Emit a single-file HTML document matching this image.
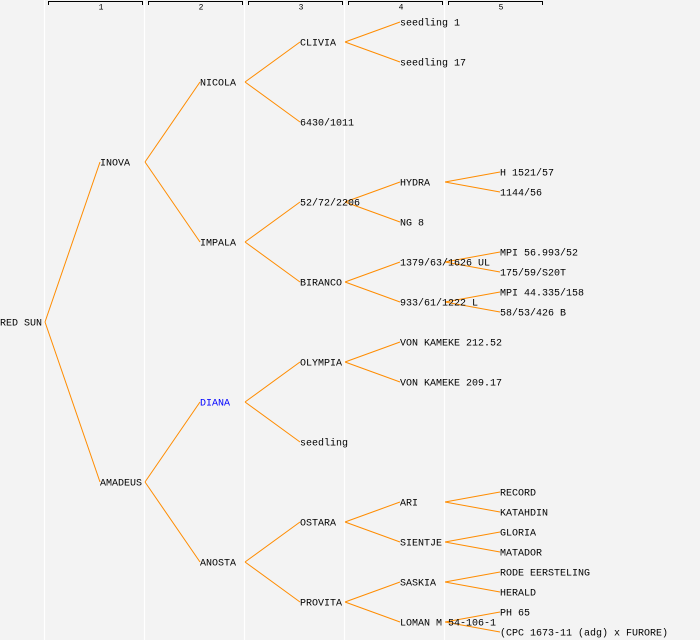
<!DOCTYPE html>
<html><head><meta charset="utf-8"><style>
html,body{margin:0;padding:0;background:#f3f3f3;}
svg{display:block;}
text{font-family:"Liberation Mono","DejaVu Sans Mono",monospace;font-size:10px;fill:#000;dominant-baseline:central;}
.h{font-size:8px;text-anchor:middle;}
</style></head><body>
<svg width="700" height="640" xmlns="http://www.w3.org/2000/svg">
<rect width="700" height="640" fill="#f3f3f3"/>
<g stroke="#ffffff" stroke-width="1.2">
<line x1="44.5" y1="0" x2="44.5" y2="640"/>
<line x1="144.5" y1="0" x2="144.5" y2="640"/>
<line x1="244.5" y1="0" x2="244.5" y2="640"/>
<line x1="344.5" y1="0" x2="344.5" y2="640"/>
<line x1="444.5" y1="0" x2="444.5" y2="640"/>
</g>
<g fill="none" stroke="#000" stroke-width="1">
<path d="M48.5 5V1.5H142.5V5"/>
<path d="M148.5 5V1.5H242.5V5"/>
<path d="M248.5 5V1.5H342.5V5"/>
<path d="M348.5 5V1.5H442.5V5"/>
<path d="M448.5 5V1.5H542.5V5"/>
</g>
<text class="h" x="101" y="8">1</text>
<text class="h" x="201" y="8">2</text>
<text class="h" x="301" y="8">3</text>
<text class="h" x="401" y="8">4</text>
<text class="h" x="501" y="8">5</text>
<g stroke="#ff8c00" stroke-width="1" fill="none">
<path d="M45 322L100 162M45 322L100 482"/>
<path d="M145 162L200 82M145 162L200 242M145 482L200 402M145 482L200 562"/>
<path d="M245 82L300 42M245 82L300 122M245 242L300 202M245 242L300 282M245 402L300 362M245 402L300 442M245 562L300 522M245 562L300 602"/>
<path d="M345 42L400 22M345 42L400 62M345 202L400 182M345 202L400 222M345 282L400 262M345 282L400 302M345 362L400 342M345 362L400 382M345 522L400 502M345 522L400 542M345 602L400 582M345 602L400 622"/>
<path d="M445 182L500 172M445 182L500 192M445 262L500 252M445 262L500 272M445 302L500 292M445 302L500 312M445 502L500 492M445 502L500 512M445 542L500 532M445 542L500 552M445 582L500 572M445 582L500 592M445 622L500 612M445 622L500 632"/>
</g>
<g transform="translate(0,2)">
<text x="0" y="322">RED SUN</text>
<text x="100" y="162">INOVA</text>
<text x="100" y="482">AMADEUS</text>
<text x="200" y="82">NICOLA</text>
<text x="200" y="242">IMPALA</text>
<text x="200" y="402" style="fill:#0000ff">DIANA</text>
<text x="200" y="562">ANOSTA</text>
<text x="300" y="42">CLIVIA</text>
<text x="300" y="122">6430/1011</text>
<text x="300" y="202">52/72/2206</text>
<text x="300" y="282">BIRANCO</text>
<text x="300" y="362">OLYMPIA</text>
<text x="300" y="442">seedling</text>
<text x="300" y="522">OSTARA</text>
<text x="300" y="602">PROVITA</text>
<text x="400" y="22">seedling 1</text>
<text x="400" y="62">seedling 17</text>
<text x="400" y="182">HYDRA</text>
<text x="400" y="222">NG 8</text>
<text x="400" y="262">1379/63/1626 UL</text>
<text x="400" y="302">933/61/1222 L</text>
<text x="400" y="342">VON KAMEKE 212.52</text>
<text x="400" y="382">VON KAMEKE 209.17</text>
<text x="400" y="502">ARI</text>
<text x="400" y="542">SIENTJE</text>
<text x="400" y="582">SASKIA</text>
<text x="400" y="622">LOMAN M 54-106-1</text>
<text x="500" y="172">H 1521/57</text>
<text x="500" y="192">1144/56</text>
<text x="500" y="252">MPI 56.993/52</text>
<text x="500" y="272">175/59/S20T</text>
<text x="500" y="292">MPI 44.335/158</text>
<text x="500" y="312">58/53/426 B</text>
<text x="500" y="492">RECORD</text>
<text x="500" y="512">KATAHDIN</text>
<text x="500" y="532">GLORIA</text>
<text x="500" y="552">MATADOR</text>
<text x="500" y="572">RODE EERSTELING</text>
<text x="500" y="592">HERALD</text>
<text x="500" y="612">PH 65</text>
<text x="500" y="632">(CPC 1673-11 (adg) x FURORE)</text>
</g>
</svg>
</body></html>
